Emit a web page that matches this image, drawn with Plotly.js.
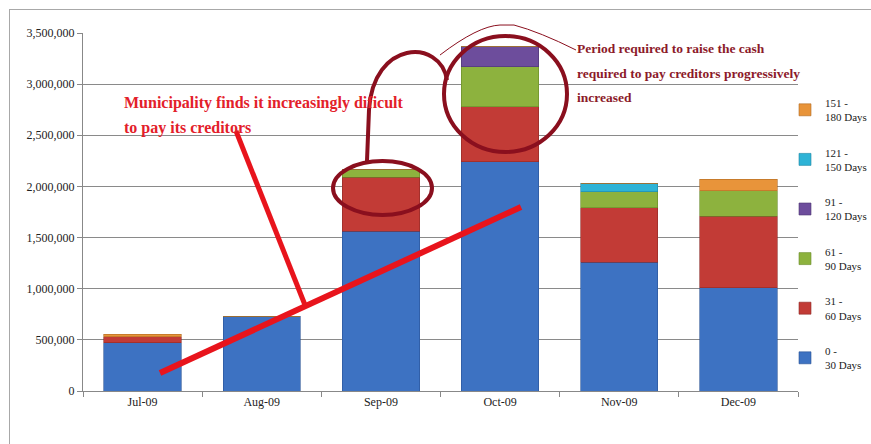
<!DOCTYPE html>
<html>
<head>
<meta charset="utf-8">
<script src="https://cdn.plot.ly/plotly-3.0.1.min.js"></script>
<style>
html,body{margin:0;padding:0;background:#fff;overflow:hidden;}
#wrap{position:relative;width:871px;height:444px;overflow:hidden;}
#chart{position:absolute;left:0;top:0;width:871px;height:444px;}
#frame{position:absolute;left:9px;top:9px;width:900px;height:460px;border:1px solid #a8a8a8;pointer-events:none;}
</style>
</head>
<body>
<div id="wrap"><div id="chart"></div><div id="frame"></div></div>
<script>
// ---- data ----
const months = ["Jul-09", "Aug-09", "Sep-09", "Oct-09", "Nov-09", "Dec-09"];
const d0_30    = [470000, 730000, 1560000, 2240000, 1260000, 1010000];
const d31_60   = [60000,  0,      530000,  540000,  530000,  700000];
const d61_90   = [0,      0,      80000,   390000,  160000,  250000];
const d91_120  = [0,      0,      0,       195000,  0,       0];
const d121_150 = [0,      0,      0,       0,       80000,   0];
const d151_180 = [25000,  0,      0,       0,       0,       110000];
const seriesNames = ["0 -<br>30 Days", "31 -<br>60 Days", "61 -<br>90 Days", "91 -<br>120 Days", "121 -<br>150 Days", "151 -<br>180 Days"];
const yTicks = [0, 500000, 1000000, 1500000, 2000000, 2500000, 3000000, 3500000];

const colors = ["#3d72c2", "#c23b36", "#8db23e", "#6d4d9c", "#2eb3d6", "#e8943a"];
const edge   = ["#2a5396", "#8e2a27", "#688a2a", "#4d3672", "#1f86a2", "#b06a22"];
const allSeries = [d0_30, d31_60, d61_90, d91_120, d121_150, d151_180];

const traces = allSeries.map((vals, i) => ({
  type: "bar",
  x: months,
  y: vals,
  name: seriesNames[i],
  legendgroup: "g" + i,
  legendrank: 1000 - i,
  marker: {color: colors[i], line: {color: edge[i], width: 0.6}},
  hoverinfo: "y+name"
}));

// plot area in pixels: x 83..798, y 33..391
const L = 83, R = 798, T = 33, B = 391;
function px(x) { return (x - L) / (R - L); }
function py(y) { return (B - y) / (B - T); }
function pathOf(pts) {
  return pts.map(p => px(p[0]).toFixed(4) + "," + py(p[1]).toFixed(4)).join(" ");
}

const maroon = "#8a0f1e";
const shapes = [
  {type: "line", xref: "paper", yref: "paper", x0: px(160), y0: py(373), x1: px(521), y1: py(207),
   line: {color: "#e8141c", width: 6}},
  {type: "line", xref: "paper", yref: "paper", x0: px(236), y0: py(131), x1: px(305), y1: py(305),
   line: {color: "#e8141c", width: 5}},
  {type: "circle", xref: "paper", yref: "paper", x0: px(333), x1: px(432), y0: py(161), y1: py(215),
   line: {color: maroon, width: 4}},
  {type: "circle", xref: "paper", yref: "paper", x0: px(444), x1: px(567), y0: py(36), y1: py(152),
   line: {color: maroon, width: 4}},
  {type: "path", xref: "paper", yref: "paper",
   path: "M " + pathOf([[367, 161]]) + " L " + pathOf([[369, 110]]) + " C " + pathOf([[373, 40], [440, 38], [447, 80]]),
   line: {color: maroon, width: 4}},
  {type: "path", xref: "paper", yref: "paper",
   path: "M " + pathOf([[440, 55]]) + " Q " + pathOf([[478, 26], [500, 25]]) + " L " + pathOf([[514, 25]]) + " Q " + pathOf([[540, 32], [576, 50]]),
   line: {color: maroon, width: 1}}
];

const serif = "Liberation Serif";
function ann(text, x, y, color, size) {
  return {xref: "paper", yref: "paper", x: px(x), y: py(y), xanchor: "left", yanchor: "middle",
    text: "<b>" + text + "</b>", showarrow: false, font: {family: serif, size: size, color: color}};
}
const annotations = [
  ann("Municipality finds it increasingly dificult", 122, 103, "#e3202a", 16),
  ann("to pay its creditors", 122, 128, "#e3202a", 16),
  ann("Period required to raise the cash", 575, 48, "#8c1a2a", 13.5),
  ann("required to pay creditors progressively", 575, 73, "#8c1a2a", 13.5),
  ann("increased", 575, 97, "#8c1a2a", 13.5)
];

const layout = {
  width: 871, height: 444,
  margin: {l: L, r: 871 - R, t: T, b: 444 - B, pad: 0, autoexpand: false},
  paper_bgcolor: "#ffffff", plot_bgcolor: "#ffffff",
  barmode: "stack", bargap: 0.35,
  font: {family: serif, size: 12, color: "#222"},
  xaxis: {type: "category", showgrid: false, showline: true, linecolor: "#888", linewidth: 1,
    ticks: "outside", tickson: "boundaries", ticklen: 5, tickcolor: "#888",
    tickfont: {family: serif, size: 12, color: "#222"}, fixedrange: true},
  yaxis: {range: [0, 3500000], tickvals: yTicks, tickformat: ",d", showgrid: true, gridcolor: "#8a8a8a", gridwidth: 1,
    showline: true, linecolor: "#888", linewidth: 1, ticks: "outside", ticklen: 5, tickcolor: "#888",
    zeroline: false, tickfont: {family: serif, size: 12, color: "#222"}, fixedrange: true},
  legend: {x: px(785), xanchor: "left", y: py(89), yanchor: "top", traceorder: "grouped", tracegroupgap: 18,
    font: {family: serif, size: 11, color: "#222"}, itemwidth: 30, bgcolor: "rgba(0,0,0,0)"},
  shapes: shapes,
  annotations: annotations,
  showlegend: true
};

Plotly.newPlot("chart", traces, layout, {displayModeBar: false, staticPlot: true});
</script>
</body>
</html>
